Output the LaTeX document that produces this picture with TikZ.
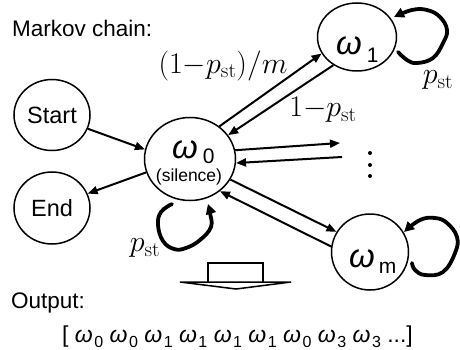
\RequirePackage{fix-cm}
\documentclass[tikz,border=0pt]{standalone}
\usepackage[no-math]{fontspec}
\setmainfont{Liberation Sans}
\usetikzlibrary{arrows.meta,shapes.geometric}
\newcommand{\bigom}[3]{{\fontsize{33}{33}\selectfont\itshape ω}\hspace{#2}\raisebox{#3}{\fontsize{21}{21}\selectfont #1}}
\newcommand{\sqom}[1]{{\itshape ω}\hspace{1.5pt}\raisebox{-5pt}{\fontsize{16}{16}\selectfont #1}}
\tikzset{
  st/.style={draw, line width=1.5pt, ellipse, inner sep=0pt},
  arr/.style={line width=2pt, -{Triangle[length=10pt,width=8pt]}},
  loopl/.style={line width=3.8pt, -{Triangle[length=10pt,width=10pt]}, line join=round, line cap=round},
  mlab/.style={inner sep=0pt, font=\fontsize{30}{30}\selectfont},
  txt/.style={inner sep=0pt, font=\fontsize{22.5}{22.5}\selectfont},
}
\begin{document}
\begin{tikzpicture}[x=1pt,y=-1pt]
\useasboundingbox (0,0) rectangle (460,350);

% states
\node[st, minimum width=76pt, minimum height=71pt, font=\fontsize{23.5}{23.5}\selectfont] (start) at (52,115) {Start};
\node[st, minimum width=76pt, minimum height=72pt, font=\fontsize{23.5}{23.5}\selectfont] (end) at (52,208) {End};
\node[st, minimum width=91pt, minimum height=83pt] (w0) at (190,159) {};
\node[anchor=base west, inner sep=0pt] (w0l) at (172,158) {\bigom{0}{5pt}{-5pt}};
\node[anchor=base, inner sep=0pt, font=\fontsize{17.5}{17.5}\selectfont] (w0s) at (189,181) {(silence)};
\node[st, minimum width=79pt, minimum height=68pt] (w1) at (357,37) {};
\node[anchor=base west, inner sep=0pt] (w1l) at (336,55) {\bigom{1}{5pt}{-8pt}};
\node[st, minimum width=77pt, minimum height=76pt] (wm) at (370,252) {};
\node[anchor=base west, inner sep=0pt] (wml) at (349,267) {\bigom{m}{4pt}{-6pt}};

% free ends towards the dots
\coordinate (d1) at (340,143);
\coordinate (d2) at (342,157);
\fill (370,153) circle (2pt) (370,165) circle (2pt) (370,176) circle (2pt);

% connectors
\draw[arr] (start.-21) -- (w0.168);
\draw[arr] (w0.197) -- (end.22);
\draw[arr] (w0.48) -- (w1.205);
\draw[arr] (w1.230) -- (w0.32);
\draw[arr] (w0.11) -- (d1);
\draw[arr] (d2) -- (w0.-5);
\draw[arr] (w0.-27) -- (wm.149);
\draw[arr] (wm.172) -- (w0.-47);

% self loops
\draw[loopl] plot[smooth, tension=0.7] coordinates {(172,204) (161,212) (158,225) (163,241) (174,249) (186,248) (200,240) (211,227) (210,213) (208,204)};
\draw[loopl] plot[smooth, tension=0.7] coordinates {(398,52) (407,60) (417,63) (433,58) (443,43) (447,30) (440,17) (427,10) (412,10) (394,17)};
\draw[loopl] plot[smooth, tension=0.7] coordinates {(412,263) (415,270) (425,275) (443,272) (455,253) (457,237) (447,223) (435,218) (420,220) (404,232)};

% labels
\node[mlab] (l1) at (223,66) {$(1{-}p_{\mathrm{st}})/m$};
\node[mlab] (l2) at (323,110) {$1{-}p_{\mathrm{st}}$};
\node[mlab] (l3) at (438,80) {$p_{\mathrm{st}}$};
\node[mlab] (l4) at (145,248) {$p_{\mathrm{st}}$};

\node[txt, anchor=west] (mc) at (12,28) {Markov chain:};
\node[txt, anchor=base west] (out) at (11,308) {Output:};

% hollow arrow
\draw[line width=1.5pt, fill=white, line join=miter] (180,282) -- (291,282) -- (236,289) -- cycle;
\draw[line width=1.5pt, line join=miter] (208,282) -- (208,263) -- (263,263) -- (263,282);

% output sequence
\node[anchor=base west, inner sep=0pt, font=\fontsize{23}{23}\selectfont] (seq) at (62,342)
  {[ \sqom{0} \sqom{0} \sqom{1} \sqom{1} \sqom{1} \sqom{1} \sqom{0} \sqom{3} \sqom{3} ...]};
\end{tikzpicture}
\end{document}
